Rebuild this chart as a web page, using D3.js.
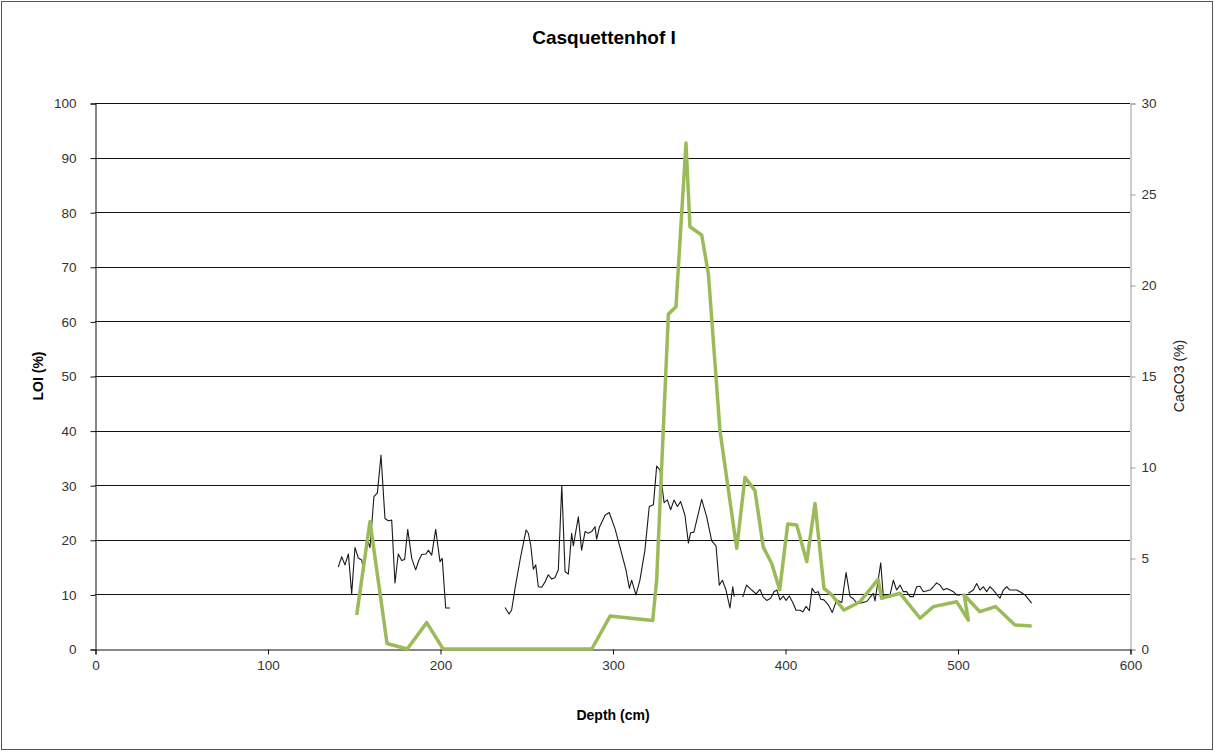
<!DOCTYPE html>
<html>
<head>
<meta charset="utf-8">
<script src="https://cdn.jsdelivr.net/npm/d3@7"></script>
<style>
  html, body { margin: 0; padding: 0; background: #fff; }
  svg { display: block; }
  text { font-family: "Liberation Sans", Arial, sans-serif; }
</style>
</head>
<body>
<svg id="chart" width="1215" height="752"></svg>
<script>
// Loss on ignition (left axis) by depth; null marks a gap in the core record
const loiDepth = [141.0,143.0,144.9,146.9,148.8,150.7,152.7,154.6,155.8,157.5,159.4,161.7,163.7,165.8,168.1,170.0,172.0,173.9,175.8,177.8,179.5,181.3,183.6,185.9,187.8,189.4,191.9,193.2,195.2,197.5,200.0,201.3,203.3,205.8,
  222.0,
  237.7,240.0,241.5,243.5,246.4,249.9,251.2,252.6,254.1,255.5,257.0,259.0,260.9,262.8,264.8,266.7,268.6,270.6,272.5,274.4,276.3,277.3,280.2,282.1,284.1,286.0,287.9,289.9,290.8,292.4,295.7,298.1,301.4,304.3,307.8,309.8,311.1,313.6,315.9,318.8,321.3,323.7,325.6,327.5,329.9,331.8,333.7,335.7,337.6,339.5,342.0,344.0,345.3,347.2,351.7,354.6,357.5,360.0,361.9,363.7,365.8,368.1,369.7,370.6,
  373.0,
  375.5,377.7,380.7,383.2,385.5,387.4,389.4,391.7,393.6,395.3,397.1,399.0,400.6,402.5,404.5,406.4,408.7,410.3,412.2,414.1,415.7,417.4,419.3,420.7,422.6,425.1,427.4,430.0,432.9,435.4,437.7,439.6,441.6,443.5,447.4,451.2,452.2,455.5,457.0,460.9,462.8,464.7,466.7,468.6,470.5,472.5,474.4,476.3,478.3,480.2,484.1,486.0,487.9,489.9,491.8,493.7,495.7,497.6,499.5,501.5,
  504.0,
  506.3,509.2,511.1,513.0,515.0,516.9,518.8,520.8,524.6,526.6,528.5,530.4,534.3,536.2,539.1,543.0];
const loiValue = [15.0,16.9,15.4,17.4,10.1,18.6,16.6,16.3,14.2,20.3,18.6,27.9,28.6,35.5,23.9,23.5,23.6,12.1,17.4,16.2,16.4,21.9,16.6,14.5,16.3,17.3,17.4,18.1,17.2,21.9,16.0,16.6,7.5,7.5,
  null,
  7.6,6.4,7.1,11.1,16.3,21.8,21.2,19.0,14.6,15.4,11.4,11.3,12.3,13.6,12.8,13.1,14.5,30.0,14.2,13.7,21.2,18.9,24.2,18.1,21.5,21.2,21.5,22.4,20.1,22.3,24.5,25.0,22.1,18.7,14.5,11.1,12.6,9.9,12.6,18.1,26.1,26.4,33.5,32.8,26.8,27.3,25.5,27.3,26.1,27.0,24.5,19.4,21.3,21.4,27.4,24.2,19.8,18.9,11.7,12.6,10.8,7.5,11.4,9.6,
  null,
  9.5,11.7,10.8,10.1,10.9,9.5,8.9,9.3,10.5,10.8,9.0,9.7,8.9,9.7,8.5,7.1,7.1,6.8,7.8,7.0,11.1,10.3,10.5,9.1,9.0,8.1,6.7,9.0,8.5,14.0,9.6,9.2,8.4,8.4,8.7,10.2,8.8,15.8,9.6,9.9,12.6,10.8,11.7,10.5,10.5,9.6,9.6,11.4,11.5,10.5,10.8,11.4,12.1,11.7,10.8,11.1,10.8,10.5,9.9,9.9,
  null,
  10.2,10.8,12.0,10.8,11.4,10.5,11.4,10.8,9.3,10.8,11.4,10.8,10.8,10.5,9.9,8.4];

// Calcium carbonate (right axis) by depth, in sampling order
const caDepth = [151.7,159.4,169.3,181.0,192.3,201.8,288.0,298.6,323.3,325.6,332.4,336.8,342.6,344.9,351.7,355.6,362.3,372.0,376.8,382.6,387.4,392.3,396.9,401.6,406.8,412.6,417.4,422.6,427.1,434.2,443.5,454.0,456.0,466.7,478.3,486.0,499.5,506.3,503.8,513.0,522.0,533.3,543.0];
const caValue = [1.87,7.0,0.3,0.0,1.45,0.0,0.0,1.81,1.56,3.8,18.4,18.8,27.8,23.2,22.75,20.6,12.0,5.53,9.43,8.7,5.6,4.7,3.26,6.87,6.81,4.8,8.0,3.33,2.97,2.14,2.6,3.82,2.78,3.06,1.69,2.33,2.6,1.59,2.97,2.05,2.33,1.32,1.26];

const xTicks = [0, 100, 200, 300, 400, 500, 600];
const loiTicks = [0, 10, 20, 30, 40, 50, 60, 70, 80, 90, 100];
const caTicks = [0, 5, 10, 15, 20, 25, 30];

const svg = d3.select("#chart");
const W = 1215, H = 752;
const plot = { left: 95, right: 1130, top: 103, bottom: 649 };

// outer frame
svg.append("rect")
  .attr("x", 1.5).attr("y", 1.5).attr("width", W - 4).attr("height", H - 4)
  .attr("fill", "#fff").attr("stroke", "#555").attr("stroke-width", 1);

const x = d3.scaleLinear().domain([0, 600]).range([plot.left, plot.right]);
const yL = d3.scaleLinear().domain([0, 100]).range([plot.bottom, plot.top]);
const yR = d3.scaleLinear().domain([0, 30]).range([plot.bottom, plot.top]);

// horizontal gridlines
svg.append("g")
  .selectAll("line")
  .data(loiTicks.filter(d => d > 0))
  .join("line")
  .attr("x1", plot.left).attr("x2", plot.right)
  .attr("y1", d => Math.round(yL(d)) + 0.5).attr("y2", d => Math.round(yL(d)) + 0.5)
  .attr("stroke", "#111").attr("stroke-width", 1);

// left axis
const axL = svg.append("g")
  .attr("transform", `translate(${plot.left + 0.5},0.5)`)
  .call(d3.axisLeft(yL).tickValues(loiTicks).tickSize(5).tickPadding(14));
axL.select(".domain").attr("stroke", "#111");
axL.selectAll(".tick line").attr("stroke", "#111");
axL.selectAll("text").attr("font-size", 13.5).attr("fill", "#333")
  .attr("font-family", "'Liberation Sans', Arial, sans-serif");

// right axis
const axR = svg.append("g")
  .attr("transform", `translate(${plot.right + 0.5},0.5)`)
  .call(d3.axisRight(yR).tickValues(caTicks).tickSize(5).tickPadding(6));
axR.select(".domain").attr("stroke", "#999");
axR.selectAll(".tick line").attr("stroke", "#999");
axR.selectAll("text").attr("font-size", 13.5).attr("fill", "#333")
  .attr("font-family", "'Liberation Sans', Arial, sans-serif");

// bottom axis
const axB = svg.append("g")
  .attr("transform", `translate(0.5,${plot.bottom + 0.5})`)
  .call(d3.axisBottom(x).tickValues(xTicks).tickSize(5).tickPadding(6));
axB.select(".domain").attr("stroke", "#111");
axB.selectAll(".tick line").attr("stroke", "#111");
axB.selectAll("text").attr("font-size", 13.5).attr("fill", "#333")
  .attr("font-family", "'Liberation Sans', Arial, sans-serif");

// LOI series
const loi = loiDepth.map((d, i) => ({ d, v: loiValue[i] }));
svg.append("path")
  .datum(loi)
  .attr("fill", "none")
  .attr("stroke", "#1a1a1a")
  .attr("stroke-width", 1.1)
  .attr("stroke-linejoin", "round")
  .attr("d", d3.line().defined(p => p.v !== null).x(p => x(p.d)).y(p => yL(p.v)));

// CaCO3 series
const ca = caDepth.map((d, i) => ({ d, v: caValue[i] }));
svg.append("path")
  .datum(ca)
  .attr("fill", "none")
  .attr("stroke", "#9bbb59")
  .attr("stroke-width", 3.5)
  .attr("stroke-linejoin", "round")
  .attr("d", d3.line().x(p => x(p.d)).y(p => yR(p.v)));

// titles
svg.append("text")
  .attr("x", 604).attr("y", 44)
  .attr("text-anchor", "middle")
  .attr("font-size", 19).attr("font-weight", "bold").attr("fill", "#000")
  .text("Casquettenhof I");

svg.append("text")
  .attr("x", 613).attr("y", 720)
  .attr("text-anchor", "middle")
  .attr("font-size", 14).attr("font-weight", "bold").attr("fill", "#000")
  .text("Depth (cm)");

svg.append("text")
  .attr("transform", "translate(43,376) rotate(-90)")
  .attr("text-anchor", "middle")
  .attr("font-size", 14).attr("font-weight", "bold").attr("fill", "#000")
  .text("LOI (%)");

svg.append("text")
  .attr("transform", "translate(1184,376) rotate(-90)")
  .attr("text-anchor", "middle")
  .attr("font-size", 14).attr("fill", "#222")
  .text("CaCO3 (%)");
</script>
</body>
</html>
